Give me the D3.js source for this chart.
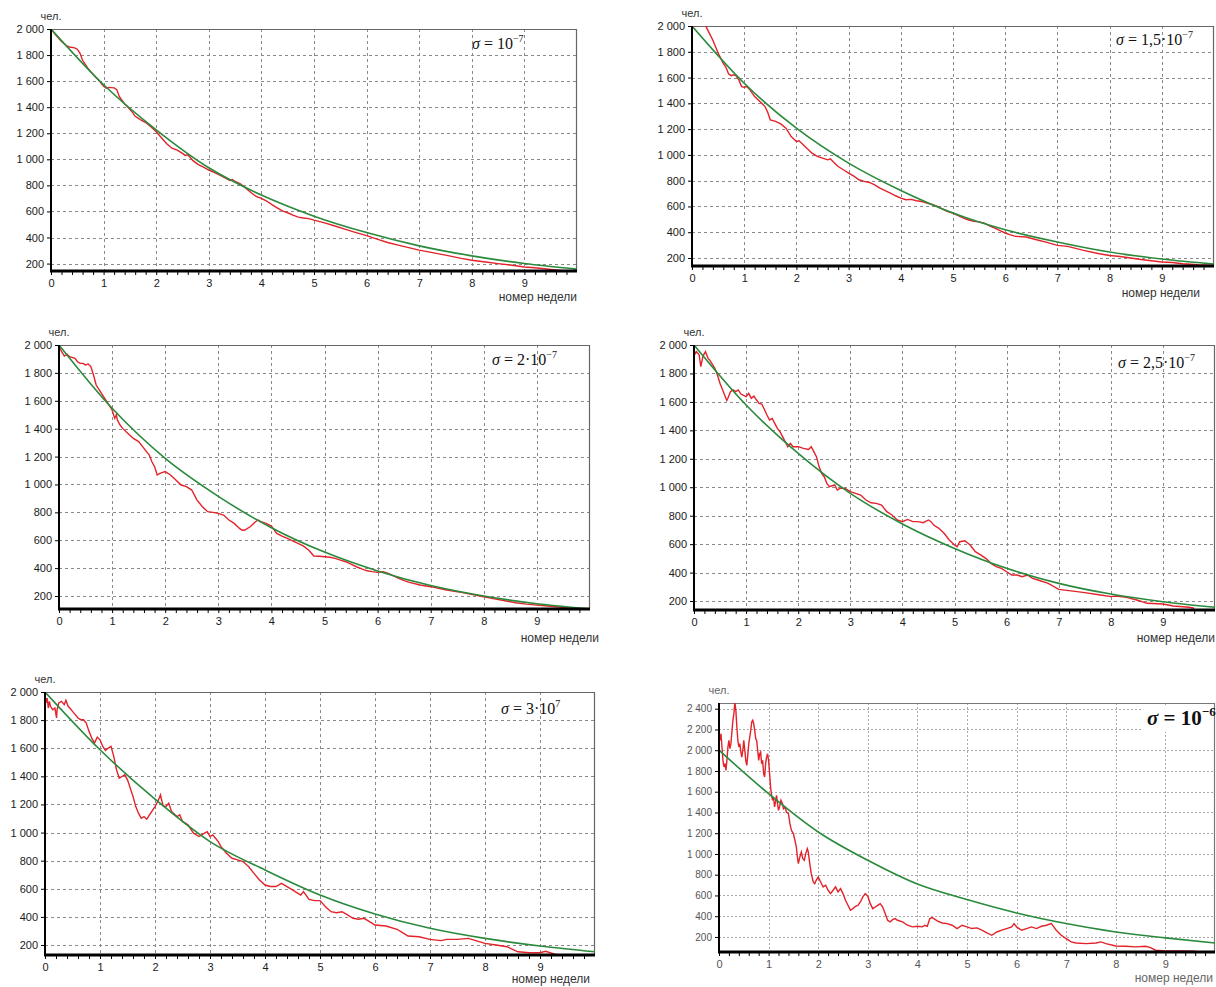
<!DOCTYPE html>
<html>
<head>
<meta charset="utf-8">
<title>σ panels</title>
<script src="https://cdn.jsdelivr.net/npm/d3@7"></script>
<style>
	body{margin:0;background:#fff;}
	svg{display:block;font-family:"Liberation Sans",Arial,sans-serif;}
	.grid line{stroke:#8a8a8a;stroke-width:1;stroke-dasharray:3,3;}
	.axis path,.axis line{stroke:#000;}
	.axis text{fill:#1a1a1a;font-size:11px;}
	.red{fill:none;stroke:#e3222a;stroke-width:1.4;}
	.green{fill:none;stroke:#2a8a3c;stroke-width:1.6;}
</style>
</head>
<body>
<svg id="chart" width="1216" height="987"></svg>
<script>
// метки осей
var weekTicks = [0, 1, 2, 3, 4, 5, 6, 7, 8, 9];
var popTicks = [200, 400, 600, 800, 1000, 1200, 1400, 1600, 1800, 2000];
var popTicks6 = [200, 400, 600, 800, 1000, 1200, 1400, 1600, 1800, 2000, 2200, 2400];
var sigmaLabels = ["10", "1,5·10", "2·10", "2,5·10", "3·10", "10"];
var sigmaPow = ["−7", "−7", "−7", "−7", "7", "−6"];

// σ = 1e-7
var red1 = [[0,2000],[0.1,1950],[0.2,1905],[0.3,1870],[0.35,1862],[0.45,1855],[0.5,1845],[0.55,1815],[0.6,1760],[0.7,1700],[0.75,1675],[0.85,1630],[0.9,1610],[1.0,1560],[1.05,1545],[1.1,1552],[1.2,1548],[1.25,1535],[1.3,1480],[1.4,1425],[1.45,1405],[1.55,1360],[1.6,1330],[1.7,1305],[1.8,1282],[1.9,1250],[2.0,1212],[2.1,1165],[2.2,1120],[2.3,1085],[2.4,1070],[2.5,1045],[2.55,1030],[2.6,1035],[2.7,990],[2.8,960],[2.9,940],[3.0,918],[3.1,900],[3.2,880],[3.3,860],[3.4,838],[3.45,845],[3.5,830],[3.6,812],[3.7,780],[3.8,745],[3.9,715],[4.0,700],[4.1,680],[4.2,652],[4.3,628],[4.4,605],[4.5,590],[4.6,572],[4.7,556],[4.8,550],[4.9,545],[5.0,533],[5.2,512],[5.4,488],[5.6,462],[5.8,438],[6.0,415],[6.2,388],[6.4,362],[6.6,342],[6.8,322],[7.0,303],[7.2,288],[7.5,265],[7.8,240],[8.0,226],[8.3,210],[8.5,200],[8.8,185],[9.0,174],[9.2,168],[9.5,155],[9.8,144]];
var green1 = [[0,2000],[1,1572],[2,1226],[3,935],[4,726],[5,564],[6,438],[7,336],[8,259],[9,200],[10,157]];

// σ = 1,5e-7
var red2 = [[0,2000],[0.1,2005],[0.15,2020],[0.2,2015],[0.25,2010],[0.3,1970],[0.4,1890],[0.5,1790],[0.6,1710],[0.65,1680],[0.7,1630],[0.75,1615],[0.8,1622],[0.85,1610],[0.9,1580],[0.95,1530],[1.0,1525],[1.05,1530],[1.1,1510],[1.2,1452],[1.3,1414],[1.4,1375],[1.45,1330],[1.5,1272],[1.6,1260],[1.7,1240],[1.8,1207],[1.9,1142],[2.0,1104],[2.05,1110],[2.1,1090],[2.2,1052],[2.3,1013],[2.4,988],[2.5,975],[2.6,962],[2.65,970],[2.7,949],[2.8,910],[2.9,885],[3.0,858],[3.1,835],[3.2,807],[3.3,795],[3.4,786],[3.5,768],[3.6,742],[3.7,722],[3.8,703],[3.9,683],[4.0,665],[4.1,652],[4.2,655],[4.3,644],[4.4,638],[4.5,626],[4.6,615],[4.7,600],[4.8,580],[4.9,561],[5.0,549],[5.1,528],[5.2,510],[5.3,495],[5.4,484],[5.5,480],[5.6,471],[5.7,450],[5.8,432],[5.9,412],[6.0,394],[6.1,380],[6.2,368],[6.4,363],[6.6,342],[6.8,321],[7.0,298],[7.2,290],[7.5,259],[7.8,233],[8.0,220],[8.2,212],[8.4,200],[8.6,188],[8.8,179],[9.0,169],[9.2,165],[9.4,156],[9.7,148],[10,143]];
var green2 = [[0,2000],[1,1556],[2,1207],[3,936],[4,724],[5,549],[6,419],[7,324],[8,246],[9,192],[10,153]];

// σ = 2e-7
var red3 = [[0,1990],[0.05,1952],[0.1,1921],[0.15,1935],[0.2,1916],[0.3,1904],[0.35,1880],[0.4,1868],[0.45,1868],[0.5,1857],[0.55,1864],[0.6,1845],[0.65,1785],[0.7,1713],[0.8,1653],[0.9,1594],[1.0,1534],[1.05,1474],[1.08,1500],[1.1,1462],[1.15,1426],[1.2,1402],[1.3,1366],[1.4,1330],[1.5,1307],[1.6,1259],[1.7,1211],[1.75,1163],[1.8,1127],[1.85,1068],[1.9,1080],[2.0,1092],[2.1,1068],[2.2,1032],[2.3,996],[2.4,984],[2.5,960],[2.6,888],[2.7,840],[2.8,805],[2.9,800],[3.0,793],[3.1,781],[3.2,745],[3.3,721],[3.4,685],[3.45,672],[3.5,673],[3.6,697],[3.7,733],[3.75,745],[3.8,733],[3.9,721],[4.0,702],[4.1,649],[4.2,630],[4.3,613],[4.4,596],[4.5,578],[4.6,559],[4.7,530],[4.8,487],[4.9,485],[5.0,482],[5.1,478],[5.2,470],[5.3,458],[5.4,446],[5.5,428],[5.6,410],[5.7,395],[5.8,381],[5.9,375],[6.0,370],[6.1,374],[6.2,362],[6.3,345],[6.4,326],[6.5,310],[6.6,298],[6.8,279],[7.0,267],[7.3,243],[7.6,224],[8.0,195],[8.2,180],[8.4,166],[8.6,152],[8.8,142],[9.0,135],[9.2,128],[9.6,114],[9.9,109]];
var green3 = [[0,2000],[1,1546],[2,1187],[3,915],[4,690],[5,515],[6,380],[7,275],[8,200],[9,145],[10,108]];

// σ = 2,5e-7
var red4 = [[0,1965],[0.03,1941],[0.05,1953],[0.1,1930],[0.13,1848],[0.17,1918],[0.2,1941],[0.22,1953],[0.27,1906],[0.3,1895],[0.4,1836],[0.45,1789],[0.5,1730],[0.55,1684],[0.6,1637],[0.63,1610],[0.65,1625],[0.7,1672],[0.75,1684],[0.8,1672],[0.85,1684],[0.9,1655],[1.0,1637],[1.05,1660],[1.1,1625],[1.15,1641],[1.2,1613],[1.25,1590],[1.3,1585],[1.35,1548],[1.4,1508],[1.45,1473],[1.5,1484],[1.55,1449],[1.6,1414],[1.65,1391],[1.7,1356],[1.8,1285],[1.85,1309],[1.9,1285],[2.0,1285],[2.1,1273],[2.2,1266],[2.25,1285],[2.3,1250],[2.35,1215],[2.4,1145],[2.45,1098],[2.5,1074],[2.55,1027],[2.6,1004],[2.7,1016],[2.75,980],[2.8,992],[2.9,992],[3.0,969],[3.1,957],[3.2,945],[3.3,910],[3.4,891],[3.5,887],[3.6,875],[3.7,828],[3.8,805],[3.9,770],[4.0,758],[4.1,774],[4.2,758],[4.3,758],[4.4,751],[4.5,770],[4.55,758],[4.6,734],[4.7,711],[4.8,676],[4.9,629],[5.0,594],[5.05,582],[5.1,617],[5.2,624],[5.3,594],[5.4,547],[5.5,524],[5.6,500],[5.7,465],[5.8,442],[5.9,430],[6.0,406],[6.1,383],[6.2,383],[6.3,371],[6.4,383],[6.5,359],[6.6,348],[6.8,324],[7.0,282],[7.2,273],[7.5,259],[7.8,242],[8.0,231],[8.1,235],[8.3,226],[8.5,207],[8.7,184],[9.0,179],[9.2,165],[9.5,156],[9.6,149]];
var green4 = [[0,2000],[1,1578],[2,1238],[3,957],[4,742],[5,570],[6,430],[7,324],[8,249],[9,195],[10,156]];

// σ = 3e-7
var red5 = [[0,1990],[0.02,1922],[0.04,1957],[0.06,1886],[0.08,1933],[0.1,1898],[0.14,1874],[0.18,1886],[0.2,1839],[0.21,1815],[0.22,1874],[0.25,1922],[0.3,1933],[0.35,1910],[0.38,1941],[0.42,1898],[0.45,1886],[0.5,1862],[0.55,1839],[0.6,1815],[0.65,1803],[0.7,1803],[0.75,1779],[0.8,1720],[0.85,1672],[0.9,1637],[0.95,1679],[1.0,1660],[1.05,1613],[1.1,1584],[1.15,1601],[1.2,1613],[1.25,1542],[1.3,1447],[1.35,1387],[1.4,1399],[1.45,1411],[1.5,1375],[1.55,1316],[1.6,1257],[1.65,1185],[1.7,1138],[1.75,1102],[1.8,1114],[1.85,1095],[1.9,1126],[2.0,1185],[2.05,1221],[2.1,1269],[2.12,1233],[2.15,1190],[2.2,1185],[2.25,1209],[2.3,1150],[2.4,1114],[2.45,1126],[2.5,1079],[2.6,1055],[2.7,996],[2.8,972],[2.85,984],[2.9,996],[2.95,1007],[3.0,972],[3.05,984],[3.1,960],[3.15,936],[3.2,900],[3.3,853],[3.4,817],[3.5,806],[3.6,794],[3.7,758],[3.8,710],[3.9,663],[4.0,627],[4.1,616],[4.2,616],[4.3,639],[4.4,616],[4.5,592],[4.6,568],[4.65,556],[4.7,580],[4.8,525],[4.9,516],[5.0,516],[5.1,473],[5.2,437],[5.3,430],[5.4,437],[5.5,414],[5.6,390],[5.7,383],[5.8,390],[5.9,366],[6.0,342],[6.2,335],[6.4,312],[6.5,288],[6.6,264],[6.8,259],[7.0,240],[7.2,231],[7.3,240],[7.5,240],[7.7,247],[7.8,235],[8.0,212],[8.2,200],[8.4,188],[8.6,152],[8.8,145],[9.0,145],[9.1,155],[9.3,131],[9.6,131]];
var green5 = [[0,2000],[1,1589],[2,1238],[3,936],[4,734],[5,556],[6,421],[7,319],[8,247],[9,193],[10,152]];

// σ = 1e-6
var red6 = [[0,2175],[0.02,2095],[0.04,2159],[0.06,2031],[0.08,1902],[0.1,1838],[0.12,1870],[0.14,1806],[0.16,1902],[0.18,2031],[0.2,2095],[0.22,2015],[0.24,2063],[0.26,2175],[0.28,2288],[0.3,2352],[0.32,2460],[0.34,2384],[0.36,2223],[0.38,2095],[0.4,2031],[0.42,2063],[0.44,1983],[0.46,1934],[0.48,1999],[0.5,2095],[0.52,1999],[0.54,1902],[0.56,1854],[0.58,1950],[0.6,2063],[0.62,2127],[0.64,2191],[0.66,2272],[0.68,2288],[0.7,2255],[0.72,2191],[0.74,2111],[0.76,2095],[0.78,1999],[0.8,1902],[0.82,1966],[0.84,1983],[0.86,1870],[0.88,1902],[0.9,1774],[0.92,1742],[0.94,1870],[0.96,1934],[0.98,1966],[1.0,1902],[1.02,1774],[1.04,1645],[1.06,1565],[1.08,1517],[1.1,1549],[1.12,1453],[1.14,1501],[1.16,1565],[1.18,1485],[1.2,1421],[1.22,1453],[1.25,1517],[1.28,1485],[1.3,1437],[1.33,1453],[1.36,1404],[1.4,1388],[1.43,1292],[1.46,1228],[1.5,1196],[1.53,1132],[1.56,1067],[1.58,971],[1.6,907],[1.63,971],[1.66,1019],[1.69,955],[1.72,939],[1.75,1003],[1.78,1051],[1.8,1019],[1.83,907],[1.86,810],[1.9,730],[1.93,714],[1.96,746],[2.0,778],[2.05,730],[2.1,682],[2.15,698],[2.2,650],[2.25,618],[2.3,650],[2.35,682],[2.4,634],[2.45,666],[2.5,618],[2.55,554],[2.6,505],[2.65,457],[2.7,473],[2.75,495],[2.8,505],[2.85,537],[2.9,586],[2.95,618],[3.0,592],[3.05,521],[3.1,473],[3.15,489],[3.2,505],[3.25,521],[3.3,489],[3.35,425],[3.4,361],[3.45,345],[3.5,367],[3.55,377],[3.6,361],[3.7,345],[3.8,313],[3.9,297],[4.0,303],[4.1,297],[4.15,313],[4.2,303],[4.25,377],[4.3,387],[4.4,355],[4.5,335],[4.6,329],[4.7,313],[4.8,281],[4.9,313],[5.0,297],[5.1,281],[5.2,287],[5.3,265],[5.4,239],[5.5,216],[5.6,248],[5.7,265],[5.8,281],[5.9,297],[5.95,329],[6.0,297],[6.1,265],[6.2,281],[6.3,297],[6.4,281],[6.5,303],[6.6,313],[6.7,329],[6.75,297],[6.8,265],[6.9,216],[7.0,184],[7.1,152],[7.2,142],[7.4,136],[7.6,142],[7.7,152],[7.8,136],[8.0,113],[8.2,110],[8.4,104],[8.6,110],[8.7,97],[8.8,72],[9.0,65],[9.3,65],[9.6,62]];
var green6 = [[0,2000],[1,1581],[2,1212],[3,939],[4,710],[5,560],[6,431],[7,329],[8,248],[9,191],[10,142]];

var reds = [red1, red2, red3, red4, red5, red6];
var greens = [green1, green2, green3, green4, green5, green6];

// расположение панелей
var panels = [
	{left: 51,  right: 577,  top: 29,  bottom: 271, yMin: 143, yMax: 2000, sx: 472,  sy: 49,  lx: 577,  ly: 301},
	{left: 692, right: 1214, top: 26,  bottom: 266, yMin: 138, yMax: 2000, sx: 1116, sy: 45,  lx: 1200, ly: 297},
	{left: 59,  right: 590,  top: 345, bottom: 609, yMin: 107, yMax: 2000, sx: 492,  sy: 365, lx: 599,  ly: 642},
	{left: 694, right: 1215, top: 345, bottom: 610, yMin: 137, yMax: 2000, sx: 1118, sy: 368, lx: 1215, ly: 642},
	{left: 45,  right: 595,  top: 692, bottom: 955, yMin: 129, yMax: 2000, sx: 501,  sy: 714, lx: 590,  ly: 983},
	{left: 719, right: 1215, top: 703, bottom: 952, yMin: 55,  yMax: 2455, sx: 1147, sy: 725, lx: 1213, ly: 982}
];

var ru = d3.formatLocale({decimal: ",", thousands: "\u00a0", grouping: [3], currency: ["", ""]});
var fmt = ru.format(",");
var svg = d3.select("#chart");

panels.forEach(function (p, i) {
	var last = (i == 5);
	var x = d3.scaleLinear().domain([0, 10]).range([p.left, p.right]);
	var y = d3.scaleLinear().domain([p.yMin, p.yMax]).range([p.bottom, p.top]);
	var yt = last ? popTicks6 : popTicks;
	var g = svg.append("g");

	g.append("clipPath").attr("id", "clip" + i)
		.append("rect")
		.attr("x", p.left).attr("y", p.top)
		.attr("width", p.right - p.left).attr("height", p.bottom - p.top);

	// сетка
	var grid = g.append("g").attr("class", "grid");
	grid.selectAll(".h").data(yt).enter().append("line")
		.attr("x1", p.left).attr("x2", p.right)
		.attr("y1", function (d) { return Math.round(y(d)) + 0.5; })
		.attr("y2", function (d) { return Math.round(y(d)) + 0.5; })
		.style("stroke-dasharray", last ? "2,2" : null)
		.style("stroke", last ? "#a8a8a8" : null);
	grid.selectAll(".v").data(weekTicks.slice(1)).enter().append("line")
		.attr("x1", function (d) { return Math.round(x(d)) + 0.5; })
		.attr("x2", function (d) { return Math.round(x(d)) + 0.5; })
		.attr("y1", p.top).attr("y2", p.bottom)
		.style("stroke-dasharray", last ? "2,2" : null)
		.style("stroke", last ? "#a8a8a8" : null);

	// рамка сверху и справа
	g.append("path")
		.attr("d", "M" + p.left + "," + (p.top + 0.5) + "H" + (p.right - 0.5) + "V" + p.bottom)
		.attr("fill", "none").attr("stroke", last ? "#777" : "#666").attr("stroke-width", 1.2);

	// кривые
	var line = d3.line()
		.x(function (d) { return x(d[0]); })
		.y(function (d) { return y(d[1]); });
	var smooth = d3.line()
		.x(function (d) { return x(d[0]); })
		.y(function (d) { return y(d[1]); })
		.curve(d3.curveMonotoneX);
	var plot = g.append("g").attr("clip-path", "url(#clip" + i + ")");
	plot.append("path").attr("class", "red").attr("d", line(reds[i]));
	plot.append("path").attr("class", "green").attr("d", smooth(greens[i]));

	// оси
	var ax = g.append("g").attr("class", "axis")
		.attr("transform", "translate(0," + p.bottom + ")")
		.call(d3.axisBottom(x).tickValues(weekTicks).tickSize(0).tickPadding(8).tickFormat(d3.format("d")));
	ax.select(".domain").remove();
	var minor = g.append("g").attr("class", "axis")
		.attr("transform", "translate(0," + p.bottom + ")")
		.call(d3.axisBottom(x).tickValues(d3.range(0, 10, 0.2)).tickSize(4).tickFormat(""));
	minor.select(".domain").remove();
	minor.selectAll("line").attr("stroke-width", 1);

	var ay = g.append("g").attr("class", "axis")
		.attr("transform", "translate(" + p.left + ",0)")
		.call(d3.axisLeft(y).tickValues(yt).tickSize(4).tickPadding(3).tickFormat(fmt));
	ay.select(".domain").remove();
	if (last) ay.selectAll("text").style("fill", "#555").style("font-size", "10px");
	if (last) ax.selectAll("text").style("fill", "#555");

	g.append("line")
		.attr("x1", p.left).attr("x2", p.left)
		.attr("y1", p.top).attr("y2", p.bottom + 1)
		.attr("stroke", "#000").attr("stroke-width", 2);
	g.append("line")
		.attr("x1", p.left - 1).attr("x2", p.right)
		.attr("y1", p.bottom).attr("y2", p.bottom)
		.attr("stroke", "#000").attr("stroke-width", 3);

	// подписи осей
	g.append("text")
		.attr("x", p.left).attr("y", p.top - 9)
		.attr("text-anchor", "middle")
		.style("font-size", "11px").style("fill", last ? "#666" : "#333")
		.text("чел.");
	g.append("text")
		.attr("x", p.lx).attr("y", p.ly)
		.attr("text-anchor", "end")
		.style("font-size", "12px").style("fill", last ? "#666" : "#333")
		.text("номер недели");

	// σ
	if (last) {
		g.append("rect").attr("x", p.sx - 4).attr("y", p.sy - 19)
			.attr("width", p.right - p.sx + 2).attr("height", 26).attr("fill", "#fff");
	}
	var st = g.append("text")
		.attr("x", p.sx).attr("y", p.sy)
		.style("font-family", "'Liberation Serif','Times New Roman',serif")
		.style("font-size", last ? "21px" : "16px")
		.style("font-weight", last ? "bold" : "normal")
		.style("fill", "#111");
	st.append("tspan").style("font-style", "italic").text("σ");
	st.append("tspan").text(" = " + sigmaLabels[i]);
	st.append("tspan").attr("dy", last ? -9 : -7)
		.style("font-size", last ? "13px" : "10px")
		.text(sigmaPow[i]);
});
</script>
</body>
</html>
